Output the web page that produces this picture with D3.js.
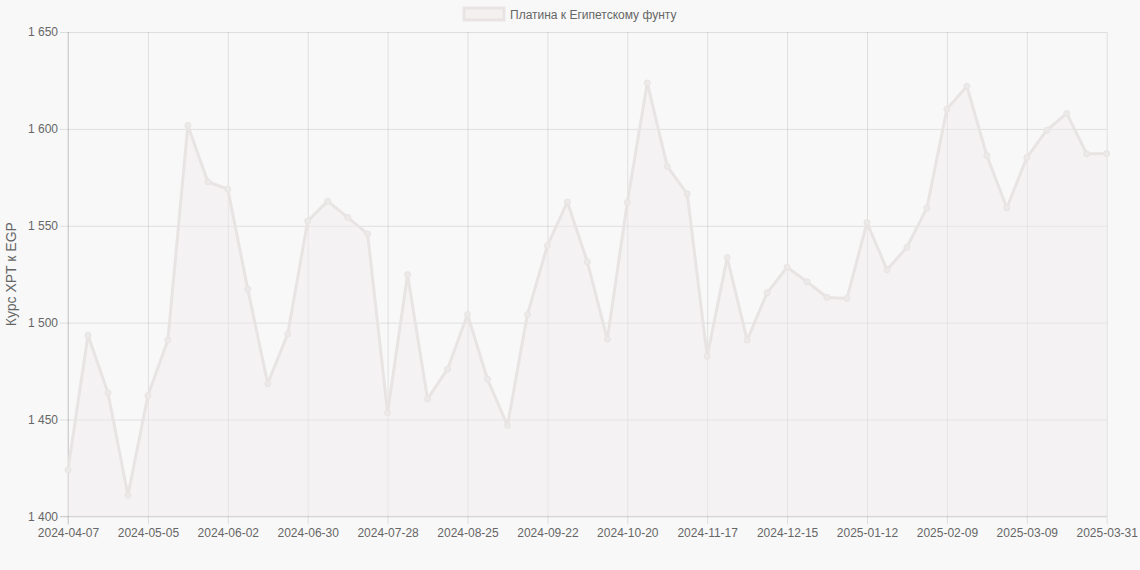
<html>
    <head>
        <title>Платина к Египетскому фунту</title>
        <script src="https://cdn.jsdelivr.net/npm/d3@7"></script>
    </head>
    <body style="margin:0; background:#f8f8f8;">
        <svg width="1140" height="570"></svg>

        <style>
            svg { font-family: "Liberation Sans", Arial, Helvetica, sans-serif; }
            text { font-size: 12px; fill: #666; }
            .grid line { stroke: rgba(0,0,0,0.1); stroke-width: 1; }
        </style>
        <script>

            // Data:
            var dates = [
                "2024-04-07", "2024-04-14", "2024-04-21", "2024-04-28", "2024-05-05", "2024-05-12",
                "2024-05-19", "2024-05-26", "2024-06-02", "2024-06-09", "2024-06-16", "2024-06-23",
                "2024-06-30", "2024-07-07", "2024-07-14", "2024-07-21", "2024-07-28", "2024-08-04",
                "2024-08-11", "2024-08-18", "2024-08-25", "2024-09-01", "2024-09-08", "2024-09-15",
                "2024-09-22", "2024-09-29", "2024-10-06", "2024-10-13", "2024-10-20", "2024-10-27",
                "2024-11-03", "2024-11-10", "2024-11-17", "2024-11-24", "2024-12-01", "2024-12-08",
                "2024-12-15", "2024-12-22", "2024-12-29", "2025-01-05", "2025-01-12", "2025-01-19",
                "2025-01-26", "2025-02-02", "2025-02-09", "2025-02-16", "2025-02-23", "2025-03-02",
                "2025-03-09", "2025-03-16", "2025-03-23", "2025-03-30", "2025-03-31"
            ];
            var rates = [
                1424, 1493.5, 1463.8, 1410.9, 1462.3, 1491, 1601.8, 1572.7, 1568.9, 1517.3,
                1468.5, 1494.2, 1552.4, 1562.7, 1554.3, 1545.8, 1453.5, 1524.8, 1460.6, 1476,
                1504.2, 1470.8, 1446.9, 1504.2, 1539.8, 1562.3, 1531.4, 1491.4, 1562, 1623.7,
                1580.6, 1566.5, 1482.6, 1533.6, 1491, 1515.4, 1528.6, 1521.1, 1513, 1512.5,
                1551.7, 1527.3, 1538.9, 1559.2, 1610.2, 1622, 1586.2, 1559.2, 1585.2, 1599.3,
                1608, 1587.1, 1587.3
            ];
            var xTickLabels = [
                "2024-04-07", "2024-05-05", "2024-06-02", "2024-06-30", "2024-07-28", "2024-08-25",
                "2024-09-22", "2024-10-20", "2024-11-17", "2024-12-15", "2025-01-12", "2025-02-09",
                "2025-03-09", "2025-03-31"
            ];
            var yTicks = [1400, 1450, 1500, 1550, 1600, 1650];
            var seriesName = "Платина к Египетскому фунту";
            var yTitle = "Курс XPT к EGP";

            var svg = d3.select("svg"),
                plotLeft = 68, plotRight = 1106.7, plotTop = 32, plotBottom = 516.4;

            var lineColor = "#e8e4e4",
                fillColor = "rgba(240,234,234,0.45)";

            var x = d3.scalePoint().domain(dates).range([plotLeft, plotRight]);
            var y = d3.scaleLinear().domain([1400, 1650]).range([plotBottom, plotTop]);

            var fmt = d3.formatLocale({ decimal: ",", thousands: " ", grouping: [3], currency: ["", ""] }).format(",d");

            // Grid + axes
            var yAxis = svg.append("g")
                .attr("class", "grid")
                .attr("transform", "translate(" + plotLeft + ",0)")
                .call(d3.axisLeft(y).tickValues(yTicks).tickFormat(fmt)
                    .tickSize(-(plotRight - plotLeft)).tickPadding(10));
            yAxis.select(".domain").remove();
            yAxis.selectAll(".tick line").attr("x1", -8);
            yAxis.selectAll(".tick text").attr("x", -10).style("font-size", "12px").attr("fill", "#666");

            var xAxis = svg.append("g")
                .attr("class", "grid")
                .attr("transform", "translate(0," + plotTop + ")")
                .call(d3.axisBottom(x).tickValues(xTickLabels)
                    .tickSize(plotBottom - plotTop + 8).tickPadding(4));
            xAxis.select(".domain").remove();
            xAxis.selectAll(".tick text").style("font-size", "12px").attr("fill", "#666");

            // Frame lines of chart area
            svg.append("line").attr("x1", plotLeft).attr("x2", plotLeft).attr("y1", plotTop).attr("y2", plotBottom + 8)
                .attr("stroke", "rgba(0,0,0,0.12)");
            svg.append("line").attr("x1", plotLeft - 8).attr("x2", plotRight).attr("y1", plotBottom).attr("y2", plotBottom)
                .attr("stroke", "rgba(0,0,0,0.12)");

            // Area fill
            var area = d3.area()
                .x(function(d, i) { return x(dates[i]); })
                .y0(plotBottom)
                .y1(function(d) { return y(d); });
            svg.append("path").datum(rates).attr("d", area).attr("fill", fillColor);

            // Line
            var line = d3.line()
                .x(function(d, i) { return x(dates[i]); })
                .y(function(d) { return y(d); });
            svg.append("path").datum(rates).attr("d", line)
                .attr("fill", "none").attr("stroke", lineColor).attr("stroke-width", 3)
                .attr("stroke-linejoin", "round");

            // Points
            svg.append("g").selectAll("circle")
                .data(rates)
                .enter().append("circle")
                    .attr("cx", function(d, i) { return x(dates[i]); })
                    .attr("cy", function(d) { return y(d); })
                    .attr("r", 3)
                    .attr("fill", "#ece9e9")
                    .attr("stroke", lineColor)
                    .attr("stroke-width", 1);

            // Legend
            var lg = svg.append("g");
            lg.append("rect").attr("x", 464).attr("y", 8).attr("width", 40).attr("height", 12)
                .attr("fill", "#f3f0f0").attr("stroke", lineColor).attr("stroke-width", 3);
            lg.append("text").attr("x", 510).attr("y", 19).text(seriesName);

            // Y title
            svg.append("text")
                .attr("transform", "translate(16," + ((plotTop + plotBottom) / 2) + ") rotate(-90)")
                .attr("text-anchor", "middle")
                .style("font-size", "14px")
                .text(yTitle);

        </script>
    </body>
</html>
